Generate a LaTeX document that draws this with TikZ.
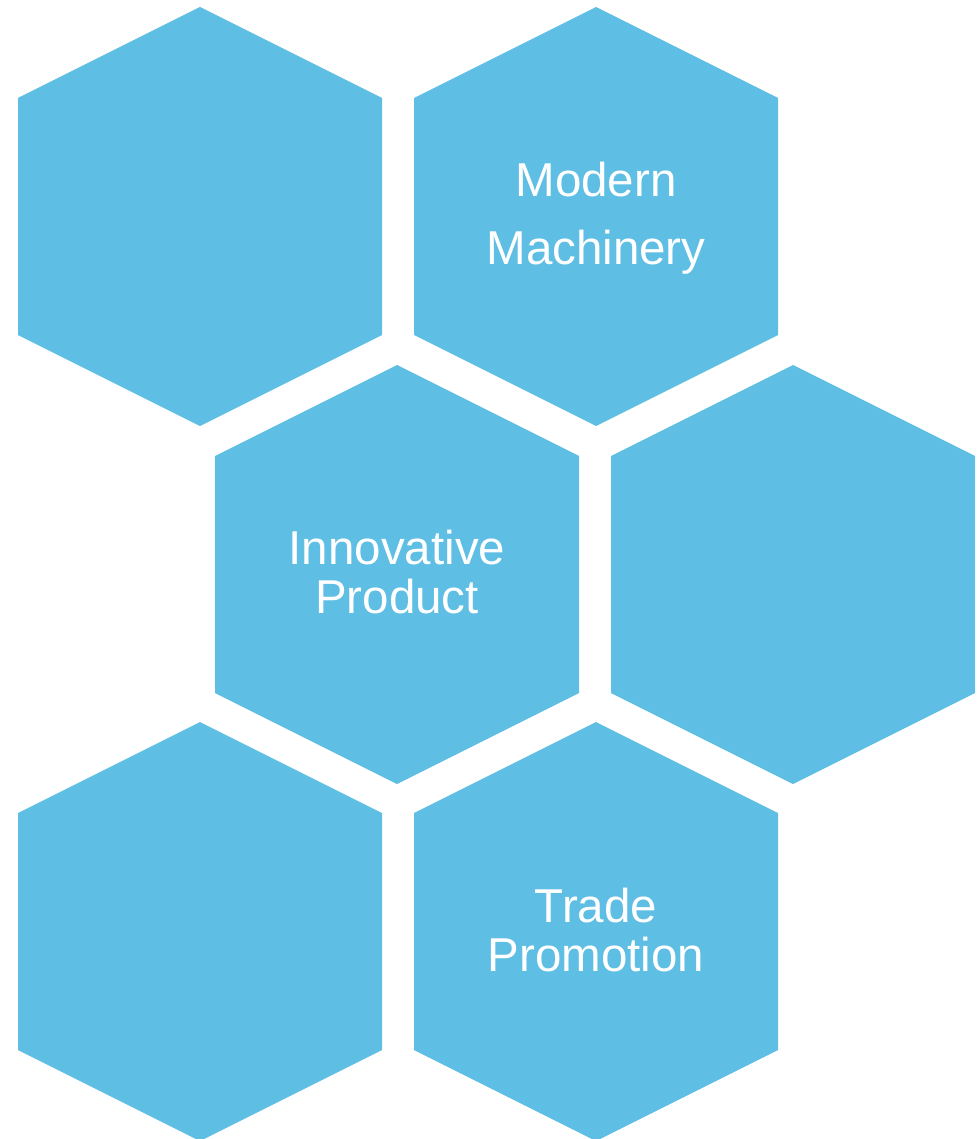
\documentclass[tikz,border=0pt]{standalone}
\usepackage{fontspec}
\setmainfont{Liberation Sans}
\usetikzlibrary{calc}

\definecolor{hexblue}{HTML}{5EBEE3}

\tikzset{
  cell/.style={fill=hexblue, draw=none},
  cell text/.style={text=white, align=center, inner sep=0pt,
    font=\fontsize{47.5}{49}\selectfont},
}

% hexagon with pointy top, centred at the given coordinate
\newcommand{\hexcell}[1]{%
  \fill[cell] (#1) ++(0,-209) -- ++(182,91) -- ++(0,237) -- ++(-182,91)
    -- ++(-182,-91) -- ++(0,-237) -- cycle;}

\begin{document}
\begin{tikzpicture}[x=1pt,y=-1pt]

		\useasboundingbox (0,0) rectangle (977,1139);

		\coordinate (H1) at (200,216);
		\coordinate (H2) at (596,216);
		\coordinate (H3) at (397,574);
		\coordinate (H4) at (793,574);
		\coordinate (H5) at (200,931);
		\coordinate (H6) at (596,931);

		\hexcell{H1}
		\hexcell{H2}
		\hexcell{H3}
		\hexcell{H4}
		\hexcell{H5}
		\hexcell{H6}

		\node[cell text, font=\fontsize{47.5}{68}\selectfont] (machinery) at ($(H2)+(0,2)$) {Modern\\Machinery};
		\node[cell text] (product) at ($(H3)+(0,-2)$) {Innovative\\Product};
		\node[cell text] (promotion) at ($(H6)+(0,-1)$) {Trade\\Promotion};

\end{tikzpicture}
\end{document}
